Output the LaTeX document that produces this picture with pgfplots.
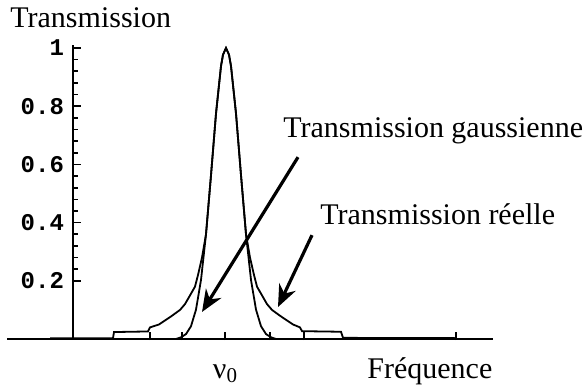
\documentclass[border=0pt]{standalone}
\usepackage{fontspec}
\setmainfont{Liberation Serif}
\newfontfamily\monofont{Liberation Mono}
\usepackage{pgfplots}
\pgfplotsset{compat=1.18}
\usetikzlibrary{arrows.meta}

\begin{document}
\begin{tikzpicture}
\begin{axis}[
    x=0.5pt, y=145.5pt,
    xmin=-66, xmax=420, ymin=0, ymax=1.01,
    axis lines=middle,
    axis line style={-, line width=0.9pt},
    clip=false,
    ytick={0.2,0.4,0.6,0.8,1},
    yticklabels={0.2,0.4,0.6,0.8,1},
    minor y tick num=4,
    xtick={77,109,152,197,231,383},
    xticklabels={},
    tick align=center,
    major tick length=4pt, minor tick length=2.5pt,
    tick style={line width=0.8pt, black},
    major y tick style={xshift=2pt},
    minor y tick style={xshift=1.25pt},
    major x tick style={yshift=1.5pt},
    yticklabel style={font=\monofont\bfseries\fontsize{12}{12}\selectfont, anchor=east, xshift=1pt},
    font=\fontsize{15}{15}\selectfont,
]
% bounding box of the whole figure
\path (axis cs:-73,-0.168) rectangle (axis cs:514,1.165);

% gaussian transmission
\addplot[black, line width=0.9pt] coordinates {
    (-23,0) (103,0) (108,0.006) (113,0.017) (118,0.044) (123,0.101)
    (128,0.203) (133,0.36) (138,0.563) (143,0.775) (148,0.938) (150,0.977)
    (153,1) (156,0.977) (158,0.938) (163,0.775) (168,0.563) (173,0.36)
    (178,0.203) (183,0.101) (188,0.044) (193,0.017) (198,0.006) (203,0) (383,0)
};
% real transmission
\addplot[black, line width=0.9pt] coordinates {
    (-23,0.003) (40,0.003) (41,0.024) (75,0.026) (77,0.04) (86,0.05)
    (99,0.08) (107,0.1) (112,0.12) (122,0.18) (125,0.22) (129,0.28)
    (133,0.36) (138,0.563) (143,0.775) (148,0.938) (150,0.977) (153,1)
    (156,0.977) (158,0.938) (163,0.775) (168,0.563) (173,0.36) (177,0.28)
    (181,0.22) (184,0.18) (194,0.12) (199,0.1) (207,0.08) (220,0.05)
    (227,0.04) (229,0.027) (268,0.025) (270,0.004) (383,0.003)
};

\draw[line width=1.6pt, -{Stealth[length=11pt, width=9pt]}] (axis cs:225,0.625) -- (axis cs:129,0.093);
\draw[line width=1.6pt, -{Stealth[length=11pt, width=9pt]}] (axis cs:239,0.357) -- (axis cs:205,0.11);

\node[anchor=base west, inner sep=0pt] at (axis cs:-63,1.069) {Transmission};
\node[anchor=base west, inner sep=0pt] at (axis cs:210,0.694) {Transmission gaussienne};
\node[anchor=base west, inner sep=0pt] at (axis cs:247,0.392) {Transmission réelle};
\node[anchor=base west, inner sep=0pt] at (axis cs:294,-0.134) {Fréquence};
\node[anchor=base, inner sep=0pt] at (axis cs:152.5,-0.134) {ν\textsubscript{0}};
\end{axis}
\end{tikzpicture}
\end{document}
